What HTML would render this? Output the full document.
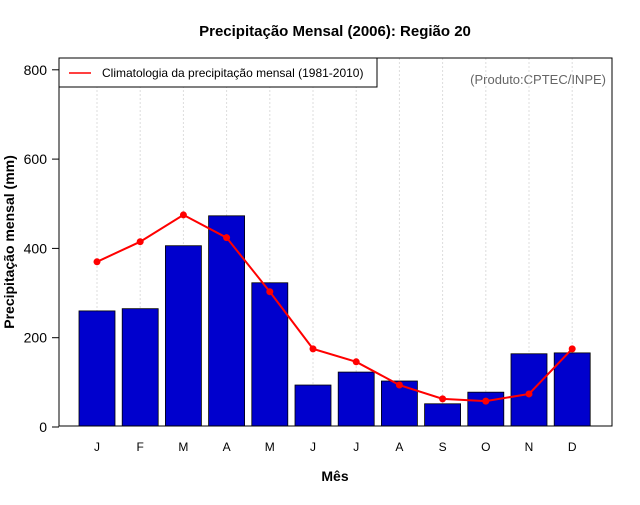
<!DOCTYPE html>
<html><head><meta charset="utf-8"><style>
body{margin:0;background:#fff;font-family:"Liberation Sans",sans-serif}
</style></head><body>
<svg id="chart" width="640" height="500" xmlns="http://www.w3.org/2000/svg" font-family="Liberation Sans, sans-serif">
<text x="335" y="36" text-anchor="middle" font-size="15" font-weight="bold">Precipitação Mensal (2006): Região 20</text>
<text transform="translate(14,242) rotate(-90)" text-anchor="middle" font-size="14" font-weight="bold">Precipitação mensal (mm)</text>
<text x="335" y="481" text-anchor="middle" font-size="14" font-weight="bold">Mês</text>
<text x="606" y="84" text-anchor="end" font-size="13" fill="#666">(Produto:CPTEC/INPE)</text>
<g id="grid"></g><g id="bars"></g><g id="line"></g><g id="axes"></g>
<rect x="59" y="58" width="553" height="368" fill="none" stroke="#000"/>
<g>
<rect x="59" y="58" width="318" height="29" fill="#fff" stroke="#000"/>
<line x1="69" y1="73" x2="91" y2="73" stroke="red" stroke-width="1.5"/>
<text x="102" y="77" font-size="12">Climatologia da precipitação mensal (1981-2010)</text>
</g>
</svg>
<script>
const months=["J","F","M","A","M","J","J","A","S","O","N","D"];
const observed=[260,265,406,473,323,94,123,103,52,78,164,166];
const climatology=[370,415,475,424,303,175,146,94,63,58,74,175];
const yTicks=[0,200,400,600,800];
const NS="http://www.w3.org/2000/svg";
const y=v=>427-v*0.4465;
const x=i=>97+i*43.2;
function mk(t,a,p){const e=document.createElementNS(NS,t);for(const k in a)e.setAttribute(k,a[k]);p.appendChild(e);return e;}
const grid=document.getElementById('grid'),bars=document.getElementById('bars'),line=document.getElementById('line'),axes=document.getElementById('axes');
months.forEach((m,i)=>{
 const g=mk('line',{x1:x(i),x2:x(i),y1:58,y2:426,stroke:'#ddd','stroke-dasharray':'2,2'},grid);
 
 
 const b=mk('rect',{x:x(i)-18,y:y(observed[i]),width:36,height:426-y(observed[i]),fill:'#0000cd',stroke:'#000','stroke-width':0.8},bars);
 
 
 const t=mk('text',{x:x(i),y:451,'text-anchor':'middle','font-size':12},axes);
 t.textContent=m;
 
 
});
const pl=mk('polyline',{points:climatology.map((v,i)=>x(i)+','+y(v)).join(' '),fill:'none',stroke:'red','stroke-width':2},line);


climatology.forEach((v,i)=>{
 const c=mk('circle',{cx:x(i),cy:y(v),r:3.5,fill:'red'},line);
 
 
});
yTicks.forEach(v=>{
 mk('line',{x1:52,x2:59,y1:y(v),y2:y(v),stroke:'#000'},axes);
 const t=mk('text',{x:47,y:y(v)+5,'text-anchor':'end','font-size':14},axes);
 t.textContent=v;
 
 
});
</script>
</body></html>
